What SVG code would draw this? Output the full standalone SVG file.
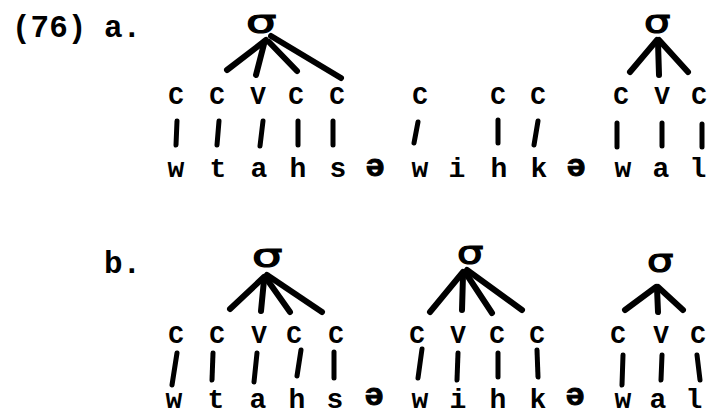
<svg xmlns="http://www.w3.org/2000/svg" width="711" height="416" viewBox="0 0 711 416">
<style>
  text { font-family: "Liberation Mono", "DejaVu Sans Mono", monospace; font-weight: bold; fill: #000; }
  .lbl { font-size: 31px; }
  .cv { font-size: 26px; text-anchor: middle; }
  .seg { font-size: 28px; text-anchor: middle; }
  .schwa { font-size: 32px; text-anchor: middle; stroke: #000; stroke-width: 1; }
  .sig { font-family: "DejaVu Sans", "Noto Sans", sans-serif; font-weight: normal; font-size: 32px; stroke: #000; stroke-width: 1.2; }
  .br { stroke: #000; stroke-width: 6; stroke-linecap: round; fill: none; }
  .bar { stroke: #000; stroke-width: 5; stroke-linecap: round; fill: none; }
</style>
<rect width="711" height="416" fill="#fff"/>

<g id="labels">
  <text class="lbl" x="12" y="37">(76)</text>
  <text class="lbl" x="104" y="37">a.</text>
  <text class="lbl" x="104" y="273">b.</text>
</g>

<g id="sigma-a1"><text class="sig" transform="translate(246,33) scale(1.5,1)">σ</text></g>
<g id="sigma-a2"><text class="sig" transform="translate(644,33) scale(1.3,1)">σ</text></g>
<g id="sigma-b1"><text class="sig" transform="translate(252,267) scale(1.5,1)">σ</text></g>
<g id="sigma-b2"><text class="sig" transform="translate(457,264) scale(1.3,1)">σ</text></g>
<g id="sigma-b3"><text class="sig" transform="translate(647,272) scale(1.3,1)">σ</text></g>

<g id="cv-a">
  <text class="cv" x="176" y="104">C</text>
  <text class="cv" x="217" y="104">C</text>
  <text class="cv" x="258" y="104">V</text>
  <text class="cv" x="296" y="104">C</text>
  <text class="cv" x="337" y="104">C</text>
  <text class="cv" x="420" y="104">C</text>
  <text class="cv" x="498" y="104">C</text>
  <text class="cv" x="538" y="104">C</text>
  <text class="cv" x="621" y="104">C</text>
  <text class="cv" x="662" y="104">V</text>
  <text class="cv" x="699" y="104">C</text>
</g>

<g id="seg-a">
  <text class="seg" x="176" y="177">w</text>
  <text class="seg" x="218" y="177">t</text>
  <text class="seg" x="259" y="177">a</text>
  <text class="seg" x="298" y="177">h</text>
  <text class="seg" x="338" y="177">s</text>
  <text class="schwa" x="375" y="176">ə</text>
  <text class="seg" x="420" y="177">w</text>
  <text class="seg" x="457" y="177">i</text>
  <text class="seg" x="499" y="177">h</text>
  <text class="seg" x="539" y="177">k</text>
  <text class="schwa" x="576" y="176">ə</text>
  <text class="seg" x="623" y="177">w</text>
  <text class="seg" x="661" y="177">a</text>
  <text class="seg" x="698" y="177">l</text>
</g>

<g id="cv-b">
  <text class="cv" x="176" y="343">C</text>
  <text class="cv" x="217" y="343">C</text>
  <text class="cv" x="259" y="343">V</text>
  <text class="cv" x="294" y="343">C</text>
  <text class="cv" x="336" y="343">C</text>
  <text class="cv" x="417" y="343">C</text>
  <text class="cv" x="458" y="343">V</text>
  <text class="cv" x="497" y="343">C</text>
  <text class="cv" x="537" y="343">C</text>
  <text class="cv" x="618" y="343">C</text>
  <text class="cv" x="661" y="343">V</text>
  <text class="cv" x="698" y="343">C</text>
</g>

<g id="seg-b">
  <text class="seg" x="174" y="408">w</text>
  <text class="seg" x="216" y="408">t</text>
  <text class="seg" x="258" y="408">a</text>
  <text class="seg" x="297" y="408">h</text>
  <text class="seg" x="335" y="408">s</text>
  <text class="schwa" x="374" y="405">ə</text>
  <text class="seg" x="420" y="408">w</text>
  <text class="seg" x="458" y="408">i</text>
  <text class="seg" x="498" y="408">h</text>
  <text class="seg" x="538" y="408">k</text>
  <text class="schwa" x="575" y="405">ə</text>
  <text class="seg" x="623" y="408">w</text>
  <text class="seg" x="658" y="408">a</text>
  <text class="seg" x="694" y="408">l</text>
</g>

<g id="connectors">
  <line class="br" x1="266" y1="40" x2="227" y2="70"/>
  <line class="br" x1="264" y1="44" x2="256" y2="75"/>
  <line class="br" x1="269" y1="42" x2="297" y2="71"/>
  <line class="br" x1="271" y1="36" x2="341" y2="78"/>
  <line class="br" x1="657" y1="40" x2="630" y2="72"/>
  <line class="br" x1="658" y1="42" x2="659" y2="75"/>
  <line class="br" x1="659" y1="40" x2="688" y2="72"/>
  <line class="bar" x1="177" y1="121" x2="176" y2="145"/>
  <line class="bar" x1="219" y1="121" x2="217" y2="145"/>
  <line class="bar" x1="263" y1="121" x2="260" y2="146"/>
  <line class="bar" x1="298" y1="121" x2="298" y2="145"/>
  <line class="bar" x1="333" y1="121" x2="333" y2="145"/>
  <line class="bar" x1="418" y1="122" x2="414" y2="143"/>
  <line class="bar" x1="498" y1="120" x2="498" y2="143"/>
  <line class="bar" x1="538" y1="121" x2="534" y2="145"/>
  <line class="bar" x1="617" y1="123" x2="617" y2="147"/>
  <line class="bar" x1="662" y1="123" x2="662" y2="146"/>
  <line class="bar" x1="702" y1="124" x2="702" y2="147"/>
  <line class="br" x1="264" y1="277" x2="230" y2="309"/>
  <line class="br" x1="264" y1="280" x2="261" y2="311"/>
  <line class="br" x1="266" y1="278" x2="290" y2="312"/>
  <line class="br" x1="267" y1="275" x2="322" y2="312"/>
  <line class="br" x1="463" y1="272" x2="430" y2="312"/>
  <line class="br" x1="463" y1="275" x2="462" y2="310"/>
  <line class="br" x1="465" y1="272" x2="492" y2="313"/>
  <line class="br" x1="467" y1="270" x2="522" y2="310"/>
  <line class="br" x1="656" y1="287" x2="625" y2="310"/>
  <line class="br" x1="657" y1="288" x2="658" y2="312"/>
  <line class="br" x1="658" y1="287" x2="683" y2="310"/>
  <line class="bar" x1="177" y1="353" x2="172" y2="385"/>
  <line class="bar" x1="213" y1="353" x2="212" y2="380"/>
  <line class="bar" x1="257" y1="353" x2="254" y2="382"/>
  <line class="bar" x1="301" y1="350" x2="297" y2="376"/>
  <line class="bar" x1="334" y1="352" x2="334" y2="378"/>
  <line class="bar" x1="422" y1="349" x2="418" y2="378"/>
  <line class="bar" x1="458" y1="353" x2="457" y2="380"/>
  <line class="bar" x1="498" y1="353" x2="498" y2="377"/>
  <line class="bar" x1="537" y1="350" x2="538" y2="377"/>
  <line class="bar" x1="623" y1="355" x2="622" y2="385"/>
  <line class="bar" x1="662" y1="355" x2="661" y2="380"/>
  <line class="bar" x1="697" y1="355" x2="700" y2="380"/>
</g>
</svg>
